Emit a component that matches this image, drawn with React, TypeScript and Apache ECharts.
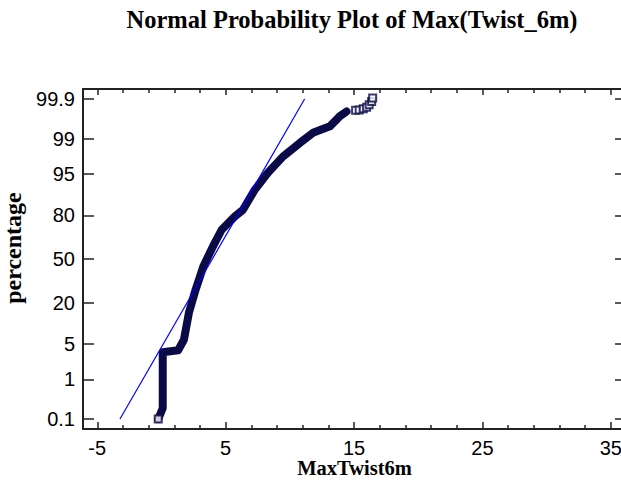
import React, { useEffect, useRef } from "react";
import * as echarts from "echarts";

// Probability-scale tick labels (percent)
const yTickPct = [0.1, 1, 5, 20, 50, 80, 95, 99, 99.9];
// X axis ticks
const xMajorTicks = [-5, 5, 15, 25, 35];
const xMinorTicks = [-3, -1, 1, 3, 7, 9, 11, 13, 17, 19, 21, 23, 27, 29, 31, 33];

// Dense body of the ordered observations (MaxTwist6m, cumulative percent)
const bodyX = [-0.25, 0.05, 0.1, 0.1, 1.3, 1.75, 2.14, 2.66, 3.26, 4.01, 4.69, 5.72, 6.35, 7.28, 8.29, 9.46, 10.79, 11.8, 13.12, 13.9, 14.42];
const bodyPct = [0.1, 0.18, 0.2, 3.6, 3.9, 5.95, 15, 27.7, 44.3, 59.6, 71.4, 79.5, 82.9, 91.0, 95.2, 97.6, 98.76, 99.26, 99.48, 99.71, 99.78];

// Sparse upper tail (individual squares)
const tailX = [-0.25, 15.12, 15.4, 15.72, 15.98, 16.18, 16.37, 16.45];
const tailPct = [0.1, 99.795, 99.8, 99.815, 99.83, 99.856, 99.883, 99.906];

// Fitted normal reference line
const fitX = [-3.23, 11.15];
const fitPct = [0.1, 99.9];

function probit(p: number): number {
  const a = [-3.969683028665376e1, 2.209460984245205e2, -2.759285104469687e2, 1.38357751867269e2, -3.066479806614716e1, 2.506628277459239];
  const b = [-5.447609879822406e1, 1.615858368580409e2, -1.556989798598866e2, 6.680131188771972e1, -1.328068155288572e1];
  const c = [-7.784894002430293e-3, -3.223964580411365e-1, -2.400758277161838, -2.549732539343734, 4.374664141464968, 2.938163982698783];
  const d = [7.784695709041462e-3, 3.224671290700398e-1, 2.445134137142996, 3.754408661907416];
  const plow = 0.02425;
  const phigh = 1 - plow;
  let q: number, r: number;
  if (p < plow) {
    q = Math.sqrt(-2 * Math.log(p));
    return (((((c[0] * q + c[1]) * q + c[2]) * q + c[3]) * q + c[4]) * q + c[5]) / ((((d[0] * q + d[1]) * q + d[2]) * q + d[3]) * q + 1);
  }
  if (p <= phigh) {
    q = p - 0.5;
    r = q * q;
    return ((((((a[0] * r + a[1]) * r + a[2]) * r + a[3]) * r + a[4]) * r + a[5]) * q) / (((((b[0] * r + b[1]) * r + b[2]) * r + b[3]) * r + b[4]) * r + 1);
  }
  q = Math.sqrt(-2 * Math.log(1 - p));
  return -(((((c[0] * q + c[1]) * q + c[2]) * q + c[3]) * q + c[4]) * q + c[5]) / ((((d[0] * q + d[1]) * q + d[2]) * q + d[3]) * q + 1);
}

const z = (pct: number) => probit(pct / 100);

const X_MIN = -6.11;
const X_MAX = 36.18;
const Z_LIM = 3.283;

const NAVY = "#0a0a46";
const AXIS = "#222";

export default function App() {
  const ref = useRef<HTMLDivElement>(null);

  useEffect(() => {
    document.body.style.margin = "0";
    if (!ref.current) return;
    const chart = echarts.init(ref.current, undefined, { renderer: "svg" });

    const yTickZ = yTickPct.map(z);
    const yLabel = (v: number) => {
      for (let i = 0; i < yTickZ.length; i++) {
        if (Math.abs(yTickZ[i] - v) < 1e-6) return String(yTickPct[i]);
      }
      return "";
    };

    const lineStyle = { color: AXIS, width: 2 };
    const tickStyle = { color: AXIS, width: 1.5 };
    const labelFont = { fontFamily: "Liberation Sans", fontSize: 20, color: "#000" };

    const baseX = { type: "value", min: X_MIN, max: X_MAX, splitLine: { show: false }, gridIndex: 0 };
    const baseY = { type: "value", min: -Z_LIM, max: Z_LIM, splitLine: { show: false }, gridIndex: 0 };

    chart.setOption({
      animation: false,
      backgroundColor: "#fff",
      title: {
        text: "Normal Probability Plot of Max(Twist_6m)",
        left: 347,
        top: 2,
        textAlign: "center",
        textStyle: { fontFamily: "Liberation Serif", fontWeight: "bold", fontSize: 24.5, color: "#000" },
      },
      grid: { left: 83, top: 89, width: 543, height: 340, containLabel: false, outerBoundsMode: "none" },
      xAxis: [
        {
          ...baseX,
          position: "bottom",
          axisLine: { show: true, onZero: false, lineStyle },
          axisTick: { show: true, inside: true, length: 7, customValues: xMajorTicks, lineStyle: tickStyle },
          axisLabel: { show: true, customValues: xMajorTicks, margin: 9, ...labelFont },
          name: "MaxTwist6m",
          nameLocation: "middle",
          nameGap: 30,
          nameMoveOverlap: false,
          nameTextStyle: { fontFamily: "Liberation Serif", fontWeight: "bold", fontSize: 20.5, lineHeight: 18, color: "#000" },
        },
        {
          ...baseX,
          position: "top",
          axisLine: { show: true, onZero: false, lineStyle },
          axisTick: { show: true, inside: true, length: 6, customValues: xMajorTicks, lineStyle: tickStyle },
          axisLabel: { show: false },
        },
        {
          ...baseX,
          position: "bottom",
          axisLine: { show: false, onZero: false },
          axisTick: { show: true, inside: true, length: 4, customValues: xMinorTicks, lineStyle: tickStyle },
          axisLabel: { show: false },
        },
        {
          ...baseX,
          position: "top",
          axisLine: { show: false, onZero: false },
          axisTick: { show: true, inside: true, length: 4, customValues: xMinorTicks, lineStyle: tickStyle },
          axisLabel: { show: false },
        },
      ],
      yAxis: [
        {
          ...baseY,
          position: "left",
          axisLine: { show: true, onZero: false, lineStyle },
          axisTick: { show: true, inside: true, length: 11, customValues: yTickZ, lineStyle: tickStyle },
          axisLabel: { show: true, customValues: yTickZ, margin: 8, formatter: yLabel, ...labelFont },
          name: "percentage",
          nameLocation: "middle",
          nameGap: 50,
          nameTextStyle: { fontFamily: "Liberation Serif", fontWeight: "bold", fontSize: 24, color: "#000", padding: [0, 0, 0, 22] },
        },
        {
          ...baseY,
          position: "right",
          axisLine: { show: true, onZero: false, lineStyle },
          axisTick: { show: true, inside: true, length: 11, customValues: yTickZ, lineStyle: tickStyle },
          axisLabel: { show: false },
        },
      ],
      series: [
        {
          type: "line",
          name: "observations",
          xAxisIndex: 0,
          yAxisIndex: 0,
          data: bodyX.map((x, i) => [x, z(bodyPct[i])]),
          showSymbol: false,
          symbol: "none",
          smooth: false,
          lineStyle: { color: NAVY, width: 8, cap: "round", join: "round" },
          z: 3,
        },
        {
          type: "scatter",
          name: "tail",
          xAxisIndex: 0,
          yAxisIndex: 0,
          data: tailX.map((x, i) => [x, z(tailPct[i])]),
          symbol: "rect",
          symbolSize: 7,
          itemStyle: { color: "#fff", borderColor: NAVY, borderWidth: 2 },
          z: 4,
        },
        {
          type: "line",
          name: "fit",
          xAxisIndex: 0,
          yAxisIndex: 0,
          data: fitX.map((x, i) => [x, z(fitPct[i])]),
          showSymbol: false,
          symbol: "none",
          lineStyle: { color: "#0000ff", width: 1.2 },
          z: 5,
        },
      ],
    });

    return () => chart.dispose();
  }, []);

  return <div ref={ref} style={{ width: 621, height: 482, overflow: "hidden" }} />;
}
